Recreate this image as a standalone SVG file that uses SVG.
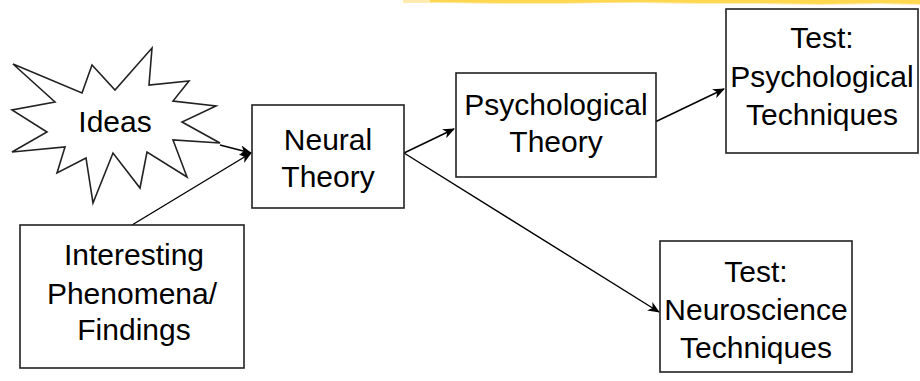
<svg xmlns="http://www.w3.org/2000/svg" width="920" height="381" viewBox="0 0 920 381">
<defs>
<style>
.box{fill:#fff;stroke:#222;stroke-width:1.6}
.t{font-family:"Liberation Sans",Arial,sans-serif;font-size:30px;fill:#000;text-anchor:middle}
.c{stroke:#000;stroke-width:1.4;fill:none}
</style>
<marker id="ah" viewBox="0 0 12 10" refX="11" refY="5" markerWidth="12" markerHeight="10" markerUnits="userSpaceOnUse" orient="auto">
<path d="M0,0 L12,5 L0,10 L3.5,5 z" fill="#000"/>
</marker>
</defs>
<rect width="920" height="381" fill="#fff"/>
<g id="brush">
<polygon points="403,0 920,0 920,5 880,4 820,5 760,4 700,4 640,3 600,3 560,4 500,4 450,3 403,3" fill="#FFE9A6" opacity="0.9"/>
<polygon points="430,0 920,0 920,4 880,3 820,4 760,3 700,3 640,2 560,3 500,3 430,2" fill="#FFD440" opacity="0.85"/>
</g>
<g id="connectors">
<line class="c" x1="220" y1="145" x2="251" y2="153" marker-end="url(#ah)"/>
<line class="c" x1="132" y1="225" x2="251" y2="153" marker-end="url(#ah)"/>
<line class="c" x1="404" y1="153" x2="454" y2="129" marker-end="url(#ah)"/>
<line class="c" x1="404" y1="153" x2="659" y2="312" marker-end="url(#ah)"/>
<line class="c" x1="655" y1="122" x2="724" y2="89" marker-end="url(#ah)"/>
</g>
<g id="ideas">
<polygon class="box" points="13,64 82,93 92,65 115,90 152,48 149,85 189,81 173,101 216,106 182,122 220,143 173,140 187,177 147,152 140,188 113,153 93,203 86,158 57,173 65,147 12,152 47,132 12,110 55,102"/>
<text class="t" x="115" y="132">Ideas</text>
</g>
<g id="neural">
<rect class="box" x="252" y="105" width="152" height="103"/>
<text class="t" x="328" y="150">Neural</text>
<text class="t" x="328" y="187">Theory</text>
</g>
<g id="psych">
<rect class="box" x="456" y="73" width="200" height="104"/>
<text class="t" x="556" y="115">Psychological</text>
<text class="t" x="556" y="152">Theory</text>
</g>
<g id="testpsych">
<rect class="box" x="726" y="9" width="192" height="144"/>
<text class="t" x="822" y="48">Test:</text>
<text class="t" x="822" y="87">Psychological</text>
<text class="t" x="822" y="125">Techniques</text>
</g>
<g id="testneuro">
<rect class="box" x="660" y="241" width="192" height="131"/>
<text class="t" x="756" y="282">Test:</text>
<text class="t" x="756" y="320">Neuroscience</text>
<text class="t" x="756" y="358">Techniques</text>
</g>
<g id="interesting">
<rect class="box" x="20" y="225" width="224" height="143"/>
<text class="t" x="134" y="265">Interesting</text>
<text class="t" x="132" y="304">Phenomena/</text>
<text class="t" x="134" y="340">Findings</text>
</g>
</svg>
